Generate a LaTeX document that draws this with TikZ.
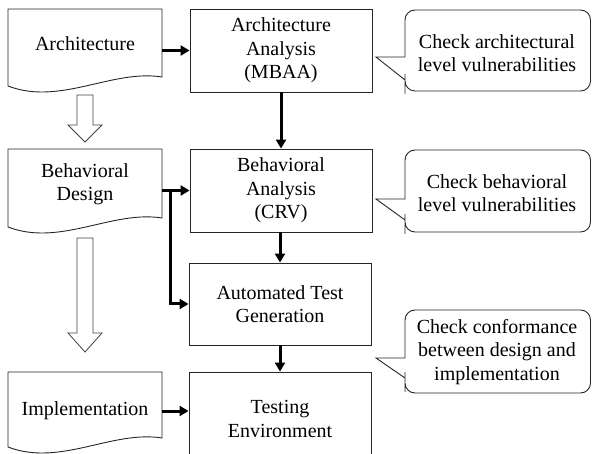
\documentclass[tikz,border=0pt]{standalone}
\usepackage{fontspec}
\setmainfont{Liberation Serif}
\usetikzlibrary{arrows.meta}

\begin{document}
\begin{tikzpicture}[x=1pt,y=-1pt,
  every node/.style={font=\fontsize{20}{23.5}\selectfont, align=center, inner sep=0pt},
  procbox/.style={draw=black!85, line width=0.9pt, minimum width=182pt},
  doclabel/.style={minimum width=154pt},
  docline/.style={draw=black!85, line width=0.9pt},
  calloutline/.style={draw=black!85, line width=0.9pt},
  flow/.style={line width=3pt, -{Triangle[length=9pt,width=10pt]}},
  hollow/.style={draw=black!75, line width=0.8pt, fill=white}
]
\clip (0,0) rectangle (592,454);
\useasboundingbox (0,0) rectangle (592,454);

% document shapes (wavy bottom edge)
\newcommand\docshape[4]{% left, right, top, bottom at left
  \draw[docline] (#1,#3) -- (#2,#3) -- (#2,#4-9)
    .. controls (#2-50,#4-17) and (#1+52,#4+20) .. (#1,#4) -- cycle;}
\docshape{8}{162}{9}{86}
\docshape{8}{162}{149}{227}
\docshape{8}{162}{372}{447}

% labels of the documents
\node[doclabel] (archdoc)  at (85,44)  {Architecture};
\node[doclabel] (behavdoc) at (85,184) {Behavioral\\Design};
\node[doclabel] (impldoc)  at (85,411) {Implementation};

% process boxes
\node[procbox, minimum height=83pt] (archbox)  at (281,50.5)  {Architecture\\Analysis\\(MBAA)};
\node[procbox, minimum height=83pt] (behavbox) at (281,190.5) {Behavioral\\Analysis\\(CRV)};
\node[procbox, minimum height=82pt] (autobox)  at (280,304)   {Automated Test\\Generation};
\node[procbox, minimum height=94pt] (testbox)  at (280,419)   {Testing\\Environment};

% hollow refinement arrows
\draw[hollow] (77,95) -- (93,95) -- (93,125) -- (102,125) -- (85,142)
  -- (68,125) -- (77,125) -- cycle;
\draw[hollow] (77,238) -- (93,238) -- (93,333) -- (102,333) -- (85,352)
  -- (68,333) -- (77,333) -- cycle;

% flow connectors
\coordinate (split) at (170,190.5);
\draw[flow] (archdoc.east |- archbox.west) -- (archbox.west);
\draw[flow] (archbox.south) -- (behavbox.north);
\draw[flow] (behavdoc.east |- behavbox.west) -- (behavbox.west);
\draw[flow] (split) |- (autobox.west);
\draw[flow] (behavbox.south -| autobox.north) -- (autobox.north);
\draw[flow] (autobox.south) -- (testbox.north);
\draw[flow] (impldoc.east) -- (testbox.west |- impldoc.east);

% callouts with pointer
\newcommand\callout[5]{% tip x, tip y, top, bottom, lower attach y
  \draw[calloutline] (#1,#2) -- (405,#2) -- (405,#2-4)
    [rounded corners=10pt] -- (405,#3) -- (590.5,#3) -- (590.5,#4)
    -- (405,#4) -- (405,#5+4) [sharp corners] -- (405,#5) -- cycle;}
\callout{376}{57}{10}{91}{80}
\callout{376}{199}{150}{232}{220}
\callout{376}{358}{310}{393}{378}

\node (note1) at (497,53)  {Check architectural\\level vulnerabilities};
\node (note2) at (497,193) {Check behavioral\\level vulnerabilities};
\node (note3) at (497,352) {Check conformance\\between design and\\implementation};
\end{tikzpicture}
\end{document}
